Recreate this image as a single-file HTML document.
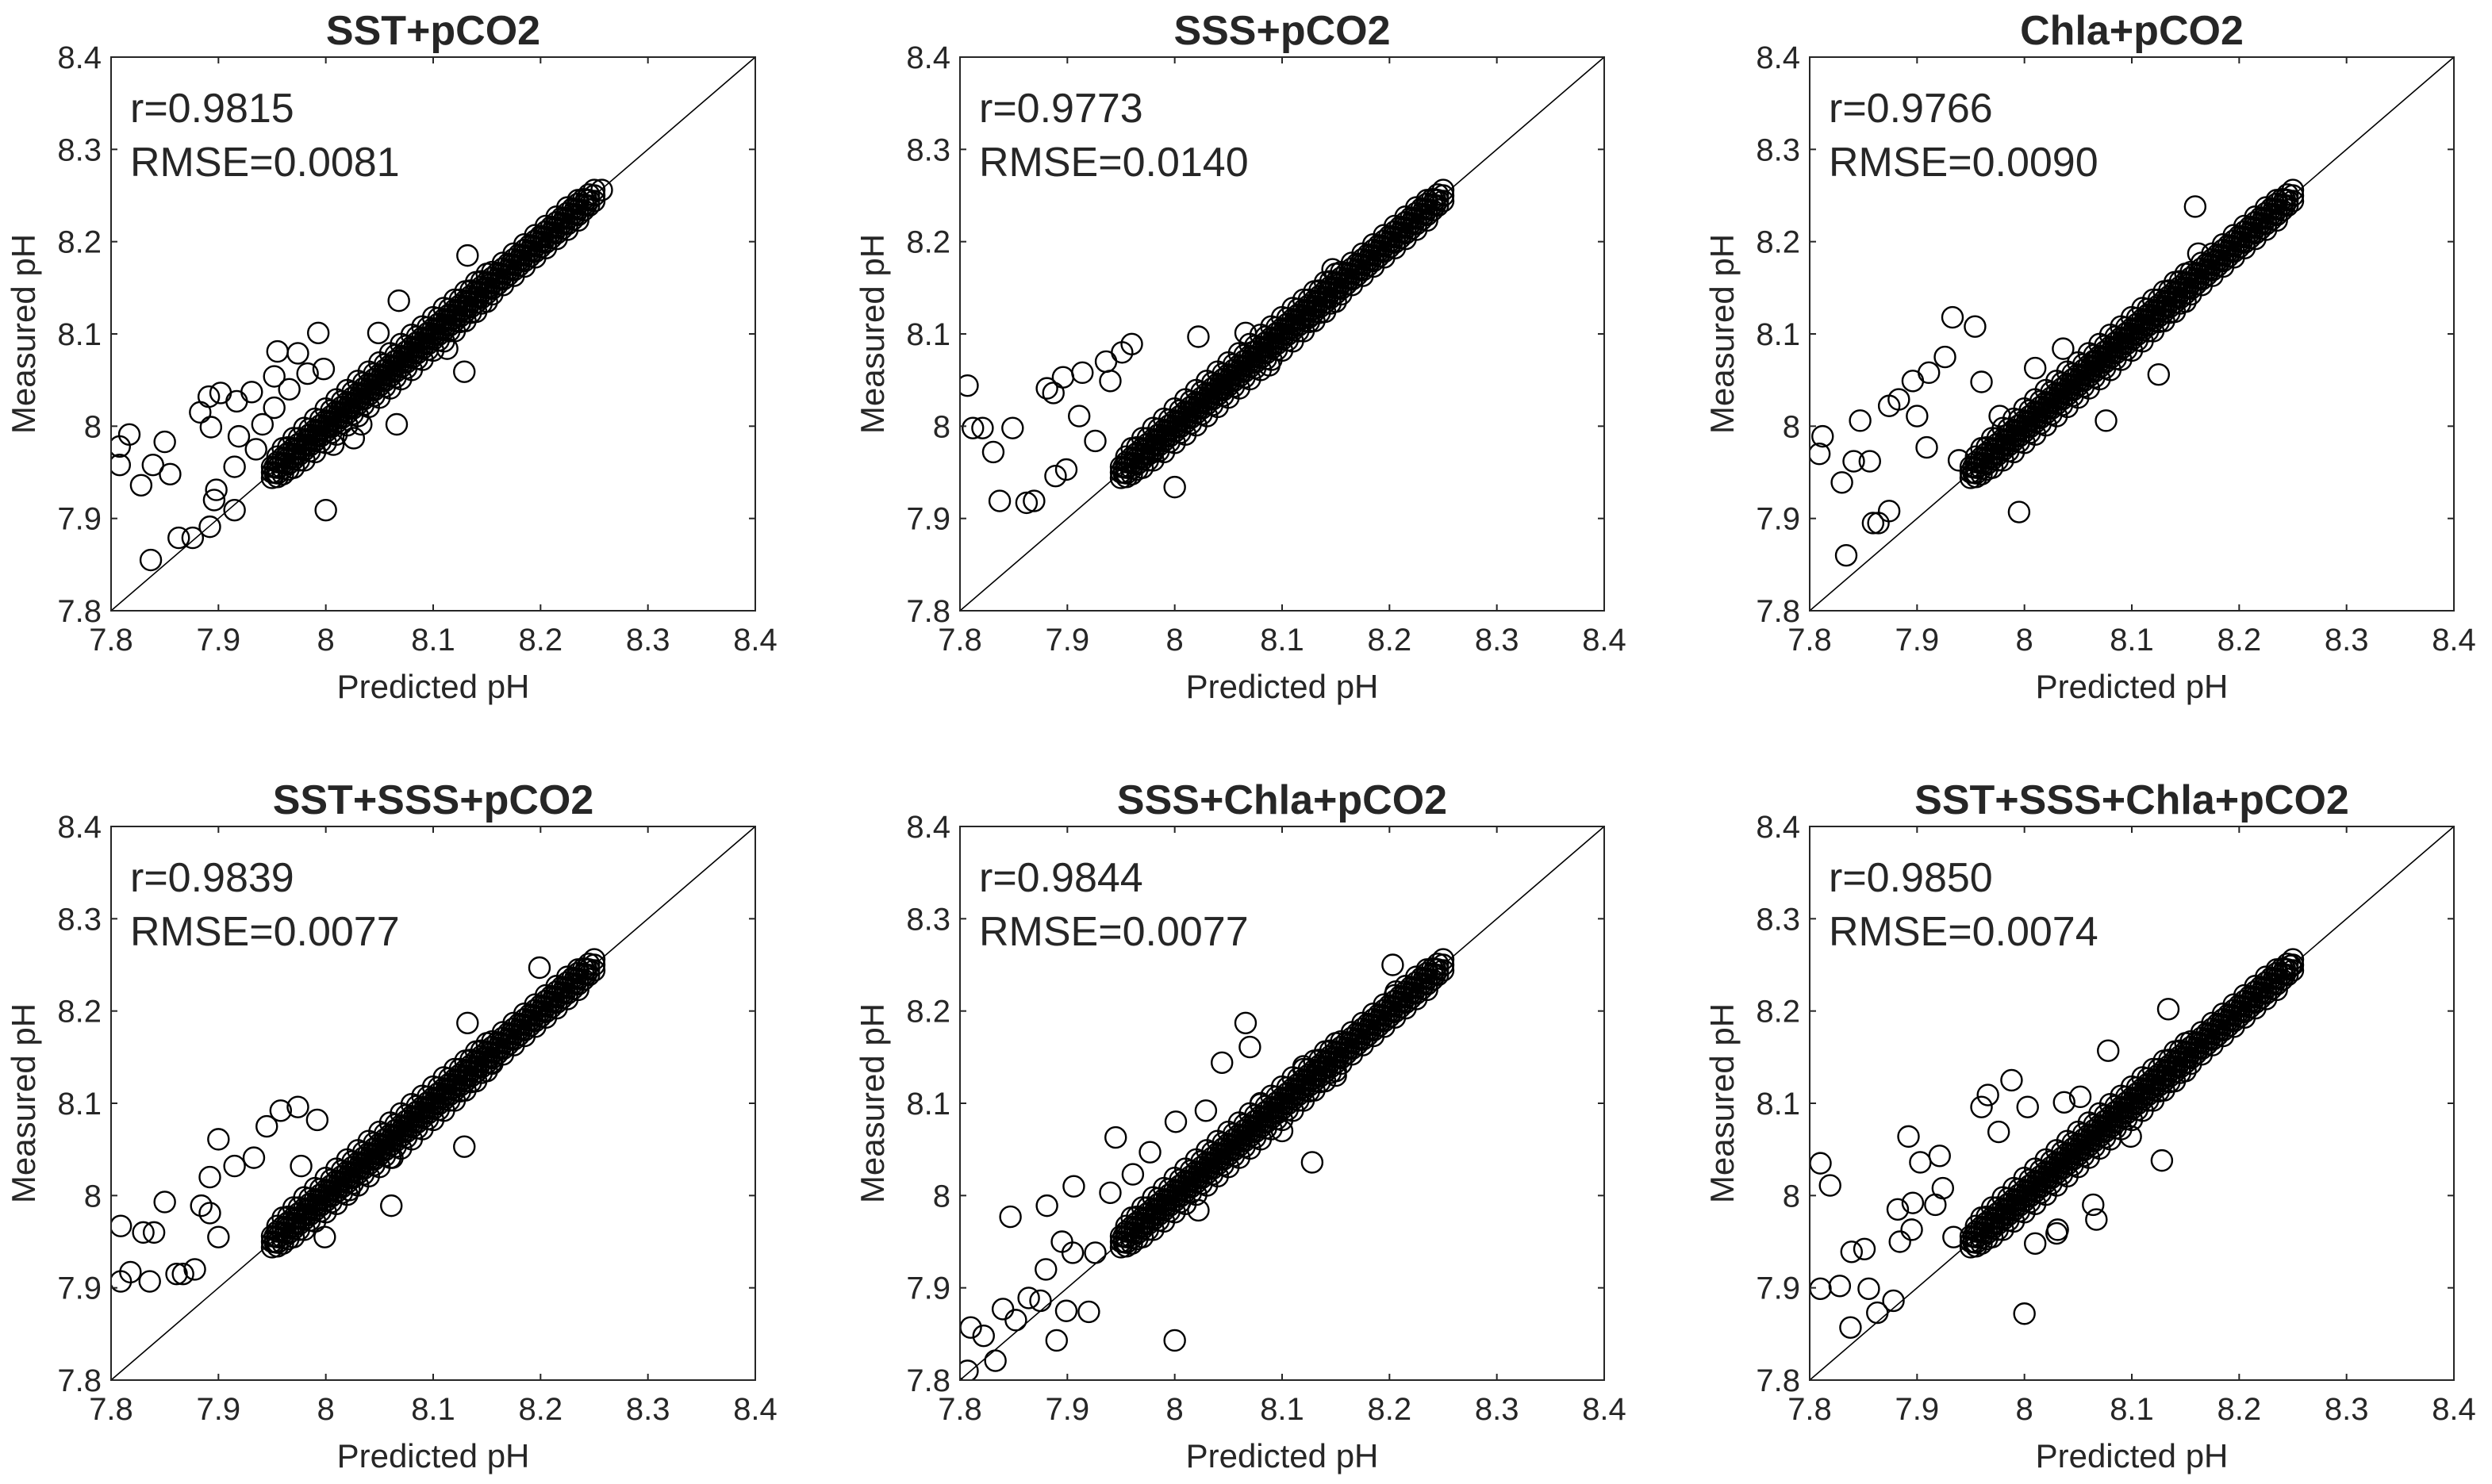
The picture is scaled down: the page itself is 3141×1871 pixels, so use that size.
<!DOCTYPE html>
<html><head><meta charset="utf-8"><style>
html,body{margin:0;padding:0;background:#fff;}
svg{display:block;}
text{font-family:"Liberation Sans",Arial,sans-serif;fill:#262626;}
</style></head><body>
<svg id="fig" width="3141" height="1871" viewBox="0 0 3141 1871" xmlns="http://www.w3.org/2000/svg">
<rect width="3141" height="1871" fill="#fff"/>
</svg>
<script>
// shared axis ticks
const tickValues = [7.8, 7.9, 8.0, 8.1, 8.2, 8.3, 8.4];
const tickLabels = ["7.8", "7.9", "8", "8.1", "8.2", "8.3", "8.4"];
const panelTitles = ["SST+pCO2", "SSS+pCO2", "Chla+pCO2", "SST+SSS+pCO2", "SSS+Chla+pCO2", "SST+SSS+Chla+pCO2"];
const rValues = ["0.9815", "0.9773", "0.9766", "0.9839", "0.9844", "0.9850"];
const rmseValues = ["0.0081", "0.0140", "0.0090", "0.0077", "0.0077", "0.0074"];

// dense core of the scatter (predicted / measured)
const coreCenterX = [7.95,7.955,7.96,7.965,7.97,7.975,7.98,7.985,7.99,7.995,8,8.005,8.01,8.015,8.02,8.025,8.03,8.035,8.04,8.045,8.05,8.055,8.06,8.065,8.07,8.075,8.08,8.085,8.09,8.095,8.1,8.105,8.11,8.115,8.12,8.125,8.13,8.135,8.14,8.145,8.15,8.155,8.16,8.165,8.17,8.175,8.18,8.185,8.19,8.195,8.2,8.205,8.21,8.215,8.22,8.225,8.23,8.235,8.24,8.245,8.25];
const coreCenterY = [7.95,7.955,7.96,7.965,7.97,7.975,7.98,7.985,7.99,7.995,8,8.005,8.01,8.015,8.02,8.025,8.03,8.035,8.04,8.045,8.05,8.055,8.06,8.065,8.07,8.075,8.08,8.085,8.09,8.095,8.1,8.105,8.11,8.115,8.12,8.125,8.13,8.135,8.14,8.145,8.15,8.155,8.16,8.165,8.17,8.175,8.18,8.185,8.19,8.195,8.2,8.205,8.21,8.215,8.22,8.225,8.23,8.235,8.24,8.245,8.25];
const coreMidUpperY = [7.956,7.961,7.966,7.971,7.976,7.981,7.986,7.991,7.996,8.001,8.006,8.011,8.016,8.021,8.026,8.031,8.036,8.041,8.046,8.051,8.056,8.061,8.066,8.071,8.076,8.081,8.086,8.091,8.096,8.101,8.106,8.111,8.116,8.121,8.126,8.131,8.136,8.141,8.146,8.151,8.156,8.161,8.166,8.171,8.176,8.181,8.186,8.191,8.196,8.201,8.206,8.211,8.216,8.221,8.226,8.231,8.236,8.241,8.246,8.251,8.256];
const coreMidLowerY = [7.944,7.949,7.954,7.959,7.964,7.969,7.974,7.979,7.984,7.989,7.994,7.999,8.004,8.009,8.014,8.019,8.024,8.029,8.034,8.039,8.044,8.049,8.054,8.059,8.064,8.069,8.074,8.079,8.084,8.089,8.094,8.099,8.104,8.109,8.114,8.119,8.124,8.129,8.134,8.139,8.144,8.149,8.154,8.159,8.164,8.169,8.174,8.179,8.184,8.189,8.194,8.199,8.204,8.209,8.214,8.219,8.224,8.229,8.234,8.239,8.244];
const coreEdgeX = [7.955,7.965,7.975,7.985,7.995,8.005,8.015,8.025,8.035,8.045,8.055,8.065,8.075,8.085,8.095,8.105,8.115,8.125,8.135,8.145,8.155,8.165,8.175,8.185,8.195,8.205,8.215,8.225,8.235];
const coreUpperY = [7.967,7.977,7.987,7.997,8.007,8.017,8.027,8.037,8.047,8.057,8.067,8.077,8.087,8.097,8.107,8.117,8.127,8.137,8.147,8.157,8.167,8.177,8.187,8.197,8.207,8.217,8.227,8.237,8.245];
const coreLowerY = [7.945,7.953,7.963,7.973,7.983,7.993,8.003,8.013,8.023,8.033,8.043,8.053,8.063,8.073,8.083,8.093,8.103,8.113,8.123,8.133,8.143,8.153,8.163,8.173,8.183,8.193,8.203,8.213,8.223];
const coreFillX = [7.9525,7.9625,7.9725,7.9825,7.9925,8.0025,8.0125,8.0225,8.0325,8.0425,8.0525,8.0625,8.0725,8.0825,8.0925,8.1025,8.1125,8.1225,8.1325,8.1425,8.1525,8.1625,8.1725,8.1825,8.1925,8.2025,8.2125,8.2225,8.2325,8.2425];
const coreFillUpperY = [7.9555,7.9655,7.9755,7.9855,7.9955,8.0055,8.0155,8.0255,8.0355,8.0455,8.0555,8.0655,8.0755,8.0855,8.0955,8.1055,8.1155,8.1255,8.1355,8.1455,8.1555,8.1655,8.1755,8.1855,8.1955,8.2055,8.2155,8.2255,8.2355,8.2455];
const coreFillLowerY = [7.9495,7.9595,7.9695,7.9795,7.9895,7.9995,8.0095,8.0195,8.0295,8.0395,8.0495,8.0595,8.0695,8.0795,8.0895,8.0995,8.1095,8.1195,8.1295,8.1395,8.1495,8.1595,8.1695,8.1795,8.1895,8.1995,8.2095,8.2195,8.2295,8.2395];
const wideX = [7.96,7.97,7.98,7.99,8.0,8.01,8.02,8.03,8.04,8.05,8.06,8.07,8.08,8.09,8.1,8.11,8.12,8.13,8.14,8.15];
const wideUpperY = [7.976,7.987,7.998,8.008,8.019,8.029,8.039,8.049,8.059,8.069,8.079,8.089,8.099,8.108,8.118,8.128,8.137,8.146,8.156,8.165];
const wideLowerY = [7.948,7.955,7.963,7.972,7.982,7.991,8.001,8.011,8.021,8.031,8.041,8.051,8.061,8.072,8.082,8.092,8.103,8.114,8.124,8.135];

// outliers per panel
const p1X = [7.808,7.817,7.808,7.828,7.839,7.850,7.855,7.837,7.863,7.876,7.892,7.883,7.891,7.902,7.893,7.896,7.898,7.915,7.917,7.931,7.919,7.915,7.935,7.955,7.974,7.952,7.966,7.952,7.941,7.993,7.983,8.000,8.066,8.033,8.068,8.049,8.129,8.132,8.113,8.200,8.257,7.998,8.026,8.007];
const p1Y = [7.978,7.991,7.958,7.936,7.958,7.983,7.948,7.855,7.879,7.879,7.891,8.015,8.032,8.036,7.999,7.920,7.931,7.909,8.027,8.037,7.989,7.956,7.975,8.081,8.079,8.054,8.040,8.020,8.002,8.101,8.057,7.909,8.002,8.002,8.136,8.101,8.059,8.185,8.084,8.205,8.256,8.062,7.987,7.980];
const p2X = [7.807,7.812,7.821,7.831,7.849,7.837,7.862,7.869,7.881,7.896,7.887,7.914,7.936,7.951,7.960,7.940,7.911,7.889,7.899,7.926,8.000,7.980,8.088,8.066,8.022,8.125,8.147,8.044];
const p2Y = [8.044,7.998,7.998,7.972,7.998,7.919,7.917,7.919,8.041,8.053,8.036,8.058,8.070,8.080,8.089,8.049,8.011,7.946,7.953,7.984,7.934,7.972,8.066,8.101,8.097,8.118,8.170,8.041];
const p3X = [7.809,7.812,7.830,7.841,7.834,7.847,7.856,7.859,7.864,7.874,7.883,7.874,7.896,7.911,7.926,7.933,7.954,7.900,7.909,7.939,7.977,7.995,7.960,8.076,8.066,8.125,8.159,8.162,8.010,8.036];
const p3Y = [7.970,7.989,7.939,7.962,7.860,8.006,7.962,7.895,7.895,8.022,8.029,7.908,8.049,8.058,8.075,8.118,8.108,8.011,7.977,7.963,8.011,7.907,8.048,8.006,8.070,8.056,8.238,8.187,8.063,8.084];
const p4X = [7.809,7.809,7.818,7.830,7.836,7.840,7.850,7.861,7.867,7.878,7.884,7.892,7.892,7.900,7.900,7.915,7.933,7.945,7.958,7.974,7.977,7.992,7.999,8.061,8.062,8.129,8.132,8.154,8.199,8.022];
const p4Y = [7.967,7.907,7.917,7.960,7.907,7.960,7.993,7.915,7.915,7.920,7.989,8.020,7.981,8.061,7.955,8.032,8.041,8.075,8.092,8.096,8.032,8.082,7.955,7.989,8.041,8.053,8.187,8.144,8.247,8.006];
const p5X = [7.807,7.810,7.822,7.833,7.840,7.847,7.852,7.864,7.875,7.880,7.890,7.899,7.895,7.905,7.920,7.926,7.906,7.940,7.961,7.977,7.945,8.001,8.000,8.022,8.066,8.070,8.128,8.203,8.206,8.044,8.029,7.881,8.08,8.12,8.15,8.10];
const p5Y = [7.810,7.857,7.848,7.821,7.877,7.977,7.865,7.889,7.886,7.920,7.843,7.875,7.950,7.938,7.874,7.938,8.010,8.003,8.023,8.047,8.063,8.080,7.843,7.984,8.187,8.161,8.036,8.250,8.221,8.144,8.092,7.989,8.10,8.14,8.13,8.07];
const p6X = [7.810,7.819,7.810,7.828,7.838,7.839,7.851,7.855,7.863,7.878,7.882,7.892,7.896,7.895,7.884,7.903,7.921,7.917,7.924,7.934,7.960,7.966,7.976,7.988,8.003,8.000,8.010,8.030,8.031,8.037,8.052,8.067,8.064,8.078,8.128,8.134,8.099,8.248];
const p6Y = [8.035,8.011,7.899,7.902,7.857,7.939,7.942,7.899,7.873,7.886,7.985,8.064,7.992,7.963,7.950,8.036,8.043,7.990,8.008,7.955,8.096,8.109,8.069,8.125,8.096,7.872,7.948,7.959,7.963,8.101,8.107,7.974,7.990,8.157,8.038,8.202,8.064,8.249];
const outX = [p1X, p2X, p3X, p4X, p5X, p6X];
const outY = [p1Y, p2Y, p3Y, p4Y, p5Y, p6Y];

const NS = "http://www.w3.org/2000/svg";
const svg = document.getElementById("fig");
const colLeft = [140, 1210, 2281], rowTop = [72, 1042];
const W = 812, H = 698, lo = 7.8, hi = 8.4;

function mk(tag, attrs, parent) {
  const e = document.createElementNS(NS, tag);
  for (const k in attrs) e.setAttribute(k, attrs[k]);
  parent.appendChild(e);
  return e;
}

for (let p = 0; p < 6; p++) {
  const L = colLeft[p % 3], T = rowTop[Math.floor(p / 3)];
  const sx = v => L + (v - lo) / (hi - lo) * W;
  const sy = v => T + H - (v - lo) / (hi - lo) * H;
  const g = mk("g", {}, svg);
  
  

  const clip = mk("clipPath", {id: "clip" + p}, g);
  mk("rect", {x: L, y: T, width: W, height: H}, clip);

  const diag = mk("line", {x1: sx(lo), y1: sy(lo), x2: sx(hi), y2: sy(hi), stroke: "#000", "stroke-width": 1.6}, g);
  
  

  const pts = mk("g", {fill: "none", stroke: "#000", "stroke-width": 2.4, "clip-path": "url(#clip" + p + ")"}, g);
  
  
  const drawSet = (xs, ys) => {
    for (let i = 0; i < xs.length; i++) {
      const c = mk("circle", {cx: sx(xs[i]), cy: sy(ys[i]), r: 13}, pts);
      
      
    }
  };
  drawSet(coreCenterX, coreCenterY);
  drawSet(coreCenterX, coreMidUpperY);
  drawSet(coreCenterX, coreMidLowerY);
  drawSet(coreEdgeX, coreUpperY);
  drawSet(coreEdgeX, coreLowerY);
  drawSet(coreFillX, coreFillUpperY);
  drawSet(coreFillX, coreFillLowerY);
  drawSet(wideX, wideUpperY);
  drawSet(wideX, wideLowerY);
  drawSet(outX[p], outY[p]);

  const box = mk("rect", {x: L, y: T, width: W, height: H, fill: "none", stroke: "#262626", "stroke-width": 2}, g);
  
  

  for (let i = 0; i < tickValues.length; i++) {
    const x = sx(tickValues[i]), y = sy(tickValues[i]);
    mk("line", {x1: x, y1: T + H, x2: x, y2: T + H - 8, stroke: "#262626", "stroke-width": 2}, g);
    mk("line", {x1: x, y1: T, x2: x, y2: T + 8, stroke: "#262626", "stroke-width": 2}, g);
    mk("line", {x1: L, y1: y, x2: L + 8, y2: y, stroke: "#262626", "stroke-width": 2}, g);
    mk("line", {x1: L + W, y1: y, x2: L + W - 8, y2: y, stroke: "#262626", "stroke-width": 2}, g);
    const xt = mk("text", {x: x, y: T + H + 50, "font-size": 40, "text-anchor": "middle"}, g);
    xt.textContent = tickLabels[i];
    
    
    const yt = mk("text", {x: L - 12, y: y + 14, "font-size": 40, "text-anchor": "end"}, g);
    yt.textContent = tickLabels[i];
    
    
  }

  const title = mk("text", {x: L + W / 2, y: T - 16, "font-size": 52, "font-weight": "bold", "text-anchor": "middle", fill: "#000"}, g);
  title.textContent = panelTitles[p];
  
  

  const xl = mk("text", {x: L + W / 2, y: T + H + 110, "font-size": 42, "text-anchor": "middle"}, g);
  xl.textContent = "Predicted pH";
  
  

  const yx = L - 96, yy = T + H / 2;
  const yl = mk("text", {x: yx, y: yy, "font-size": 42, "text-anchor": "middle", transform: "rotate(-90 " + yx + " " + yy + ")"}, g);
  yl.textContent = "Measured pH";
  
  

  const rt = mk("text", {x: L + 24, y: T + 82, "font-size": 52, fill: "#000"}, g);
  rt.textContent = "r=" + rValues[p];
  
  
  const et = mk("text", {x: L + 24, y: T + 150, "font-size": 52, fill: "#000"}, g);
  et.textContent = "RMSE=" + rmseValues[p];
  
  
}
</script>
</body></html>
